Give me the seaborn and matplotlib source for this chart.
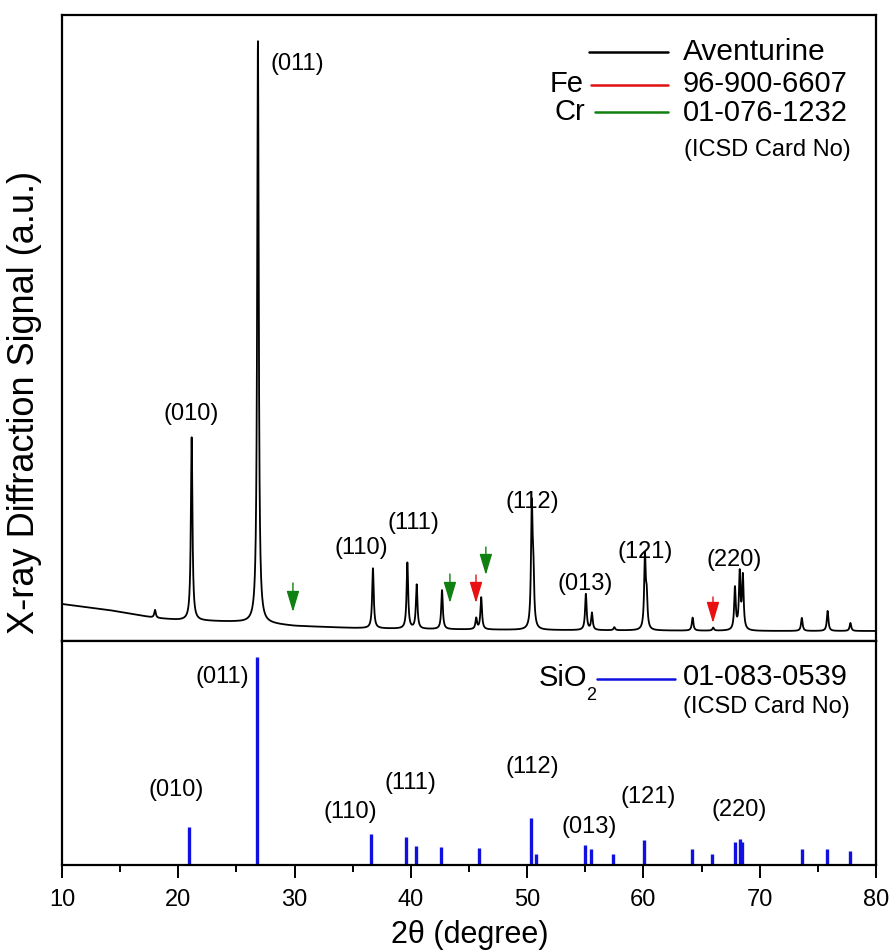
import numpy as np
import pandas as pd
import matplotlib
matplotlib.use("Agg")
import matplotlib.pyplot as plt
from matplotlib.lines import Line2D
import seaborn as sns

# ---------------- data ----------------
# measured Aventurine pattern: background knots (2theta, intensity a.u.)
bg_theta = [10, 12, 14, 16, 18, 20, 25, 28, 30, 35, 40, 50, 60, 70, 80]
bg_int = [37, 34, 31, 27, 23, 21, 19, 17, 15, 13, 12, 11, 10.5, 10, 10]
# measured peaks (position, amplitude above background)
peak_pos = [18.0, 21.15, 26.85, 36.74, 39.7, 40.5, 42.68, 45.62, 46.05, 50.4, 50.53,
            55.05, 55.57, 57.5, 60.13, 60.28, 64.23, 66.0, 67.87, 68.28, 68.55,
            73.62, 75.84, 77.8]
peak_amp = [8, 183, 582, 60, 66, 44, 39, 11, 32, 118, 50,
            36, 17, 3, 72, 30, 13, 3, 42, 56, 53,
            13, 20, 8]
# reference card SiO2 01-083-0539 (stick pattern)
ref_pos = [20.95, 26.74, 36.6, 39.6, 40.4, 42.6, 45.9, 50.3, 50.8, 55.0, 55.5,
           57.35, 60.07, 64.2, 65.9, 67.87, 68.27, 68.5, 73.66, 75.8, 77.75]
ref_int = [38, 208, 31, 28, 19, 18, 17, 47, 11, 20, 16,
           11, 25, 16, 11, 23, 26, 23, 16, 16, 14]
# Miller indices
hkl_labels = ["(011)", "(010)", "(110)", "(111)", "(112)", "(013)", "(121)", "(220)"]
# phase markers
cr_marks = [29.86, 43.36, 46.45]
fe_marks = [45.6, 65.98]
legend_entries = ["Aventurine", "96-900-6607", "01-076-1232"]
card_note = "(ICSD Card No)"
sio2_card = "01-083-0539"

# ---------------- build spectrum table ----------------
theta = np.linspace(10, 80, 7001)
background = np.interp(theta, bg_theta, bg_int)
gamma = 0.08
signal = background.copy()
for p, a in zip(peak_pos, peak_amp):
    signal += a * gamma**2 / ((theta - p) ** 2 + gamma**2)
spec = pd.DataFrame({"theta": theta, "signal": signal})

# ---------------- figure ----------------
sns.set_theme(style="white")
plt.rcParams["font.family"] = ["Liberation Sans", "DejaVu Sans"]
plt.rcParams["text.color"] = "black"
plt.rcParams["xtick.color"] = "black"
plt.rcParams["xtick.labelcolor"] = "black"

W, H = 890, 951
fig = plt.figure(figsize=(W / 100, H / 100), dpi=100)

def fx(x):
    return x / W

def fy(y):
    return 1 - y / H

L, R = 62, 876
T, MID, B = 15, 641, 865
ax1 = fig.add_axes([fx(L), fy(MID), (R - L) / W, (MID - T) / H])
ax2 = fig.add_axes([fx(L), fy(B), (R - L) / W, (B - MID) / H])

sns.lineplot(data=spec, x="theta", y="signal", ax=ax1, color="black", lw=1.3)
ax1.set_xlim(10, 80)
ax1.set_ylim(0, MID - T)
ax1.set_xticks([])
ax1.set_yticks([])
ax1.set_xlabel("")
ax1.set_ylabel("")

ax2.vlines(ref_pos, 0, ref_int, color="#1010e0", lw=2.4)
ax2.set_xlim(10, 80)
ax2.set_ylim(0, B - MID)
ax2.set_yticks([])
ax2.set_xticks(np.arange(10, 81, 10))
ax2.set_xticks(np.arange(15, 80, 10), minor=True)
ax2.tick_params(axis="x", which="major", direction="out", length=9, width=1.4,
                labelsize=17, pad=8, bottom=True, colors="black")
ax2.tick_params(axis="x", which="minor", direction="out", length=5, width=1.4, bottom=True)
ax2.set_xlabel("")

for ax in (ax1, ax2):
    for s in ax.spines.values():
        s.set_color("black")
        s.set_linewidth(1.6)

# axis labels
fig.text(fx(470), fy(935), "2θ (degree)", fontsize=22, ha="center", va="center")
fig.text(fx(25), fy(402), "X-ray Diffraction Signal (a.u.)", fontsize=26,
         rotation=90, ha="center", va="center")

# hkl labels (top panel, bottom panel)
top_lbl_xy = [(297, 64), (191, 414), (361, 548), (413, 523), (532, 502), (585, 584), (645, 552), (734, 560)]
bot_lbl_xy = [(222, 677), (176, 790), (350, 812), (410, 783), (532, 767), (589, 827), (648, 797), (739, 810)]
for lbl, (x, y) in zip(hkl_labels, top_lbl_xy):
    fig.text(fx(x), fy(y), lbl, fontsize=17, ha="center", va="center")
for lbl, (x, y) in zip(hkl_labels, bot_lbl_xy):
    fig.text(fx(x), fy(y), lbl, fontsize=17, ha="center", va="center")

# phase arrows
cr_tops = [(583, 612), (574, 603), (547, 575)]
fe_tops = [(575, 603), (597, 623)]
def arrow(xdeg, y0, y1, color):
    ax1.annotate("", xy=(xdeg, MID - y1), xytext=(xdeg, MID - y0),
                 xycoords="data", textcoords="data",
                 arrowprops=dict(arrowstyle="-|>,head_length=1.0,head_width=0.3",
                                 color=color, lw=1.0, mutation_scale=13,
                                 shrinkA=0, shrinkB=0))
for xd, (y0, y1) in zip(cr_marks, cr_tops):
    arrow(xd, y0, y1, "#108010")
for xd, (y0, y1) in zip(fe_marks, fe_tops):
    arrow(xd, y0, y1, "#e81010")

# legend (top)
def fline(x0, x1, y, color, lw=1.8):
    fig.add_artist(Line2D([fx(x0), fx(x1)], [fy(y), fy(y)], transform=fig.transFigure,
                          color=color, lw=lw))

fline(589, 668, 52, "black")
fline(591, 668, 85, "#e01010")
fline(595, 668, 112, "#108010")
fig.text(fx(683), fy(52), legend_entries[0], fontsize=21.5, ha="left", va="center")
fig.text(fx(683), fy(84), legend_entries[1], fontsize=21, ha="left", va="center")
fig.text(fx(683), fy(113), legend_entries[2], fontsize=21, ha="left", va="center")
fig.text(fx(584), fy(84), "Fe", fontsize=21, ha="right", va="center")
fig.text(fx(585), fy(112), "Cr", fontsize=21, ha="right", va="center")
fig.text(fx(684), fy(150), card_note, fontsize=17, ha="left", va="center")

# legend (bottom)
fline(597, 675, 679, "#1010e0")
fig.text(fx(587), fy(678), "SiO", fontsize=21, ha="right", va="center")
fig.text(fx(586), fy(696), "2", fontsize=13, ha="left", va="center")
fig.text(fx(683), fy(677), sio2_card, fontsize=21, ha="left", va="center")
fig.text(fx(683), fy(707), card_note, fontsize=17, ha="left", va="center")

fig.savefig("out.png", dpi=100)
